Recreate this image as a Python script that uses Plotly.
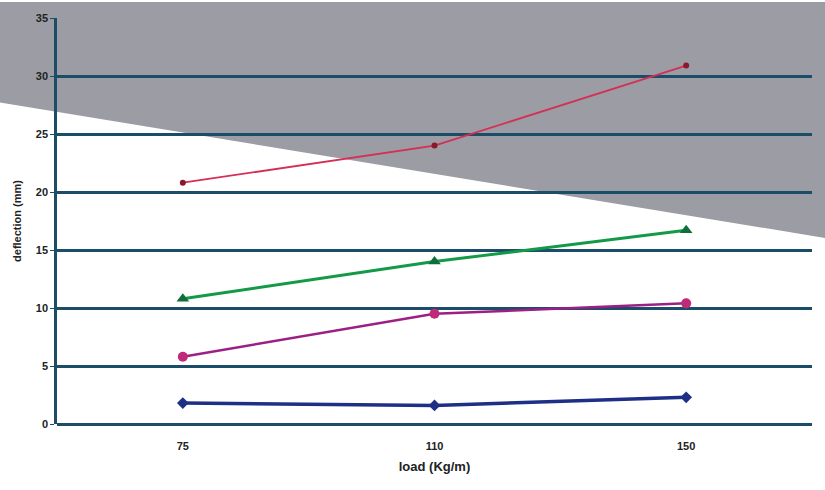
import plotly.graph_objects as go

loads = ["75", "110", "150"]
series_names = ["series 1", "series 2", "series 3", "series 4"]
blue_vals = [1.8, 1.6, 2.3]
magenta_vals = [5.8, 9.5, 10.4]
green_vals = [10.8, 14.0, 16.7]
red_vals = [20.8, 24.0, 30.9]
y_ticks = [0, 5, 10, 15, 20, 25, 30, 35]

W, H = 825, 490
L, R, T, B = 57, 13, 16, 66
pw, ph = W - L - R, H - T - B

def px(x):
    return (x - L) / pw

def py(y):
    return (H - B - y) / ph

fig = go.Figure()

styles = [
    (blue_vals, "#1e2f86", "#1e2f86", "diamond", 9, 3.5),
    (magenta_vals, "#9c1f86", "#c02a7a", "circle", 10, 2.5),
    (green_vals, "#139a48", "#0f6e3a", "triangle-up", 11, 3),
    (red_vals, "#d42f55", "#8a1a2a", "circle", 6, 1.8),
]
for name, (vals, lc, mc, sym, ms, lw) in zip(series_names, styles):
    fig.add_trace(go.Scatter(
        x=loads, y=vals, mode="lines+markers", name=name,
        line=dict(color=lc, width=lw),
        marker=dict(symbol=sym, size=ms, color=mc),
        showlegend=False,
    ))

# grey scan-overlay wedge
path = (f"M {px(0)},{py(101)} L {px(W)},{py(237)} "
        f"L {px(W)},{py(0)} L {px(0)},{py(0)} Z")
fig.add_shape(type="path", path=path, xref="paper", yref="paper",
              fillcolor="#9b9ca4", line=dict(width=0), layer="below")

tickfont = dict(family="Liberation Sans", size=11, color="#222222", weight="bold")

fig.update_layout(
    width=W, height=H,
    margin=dict(l=L, r=R, t=T, b=B),
    paper_bgcolor="white",
    plot_bgcolor="rgba(0,0,0,0)",
    xaxis=dict(
        type="category", range=[-0.5, 2.5],
        showgrid=False, showline=False, ticks="",
        tickfont=tickfont, ticklabelstandoff=14,
        title=dict(text="load (Kg/m)", standoff=10,
                   font=dict(family="Liberation Sans", size=13, color="#222222", weight="bold")),
    ),
    yaxis=dict(
        range=[0, 35], tickvals=y_ticks,
        showgrid=True, gridcolor="#1c4d68", gridwidth=2.5,
        zeroline=True, zerolinecolor="#1c4d68", zerolinewidth=2.5,
        showline=True, linecolor="#1c4d68", linewidth=2.5,
        ticks="outside", ticklen=4, tickcolor="#1c4d68",
        tickfont=tickfont,
        title=dict(text="deflection (mm)", standoff=12,
                   font=dict(family="Liberation Sans", size=11, color="#222222", weight="bold")),
    ),
)

fig.write_html("out.html", config={"displayModeBar": False},
               post_script="document.body.style.margin='0px';")
